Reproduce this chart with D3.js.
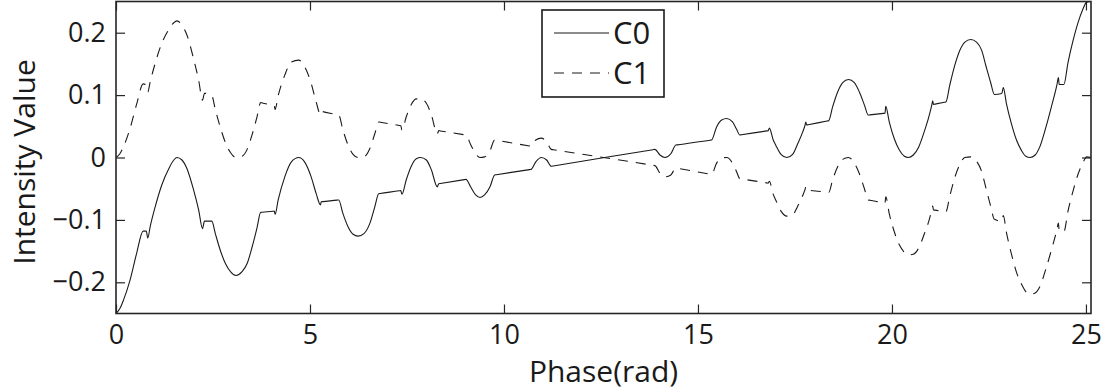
<!DOCTYPE html>
<meta charset="utf-8">
<head>
  <script type="text/javascript" src="https://cdn.jsdelivr.net/npm/d3@7/dist/d3.min.js"></script>
</head>

<style type="text/css">
  body {
    margin: 0;
    background: #fff;
    font-family: "Open Sans", "Noto Sans", sans-serif;
  }
  .axis path { display: none; }
  .axis line { stroke: #262626; stroke-width: 1.2px; }
  .axis text { font-size: 27px; fill: #1a1a1a; font-family: "Open Sans", sans-serif; }
  .frame { fill: none; stroke: #262626; stroke-width: 1.6px; }
  .curve { fill: none; stroke: #1a1a1a; stroke-width: 1.1px; }
  .label { font-size: 30px; fill: #1a1a1a; }
  .legend-text { font-size: 31px; fill: #1a1a1a; }
</style>

<body>
</body>

<script type="text/javascript">

// phase samples (rad) shared by both curves
var phase = [0.00,0.10,0.19,0.36,0.53,0.70,0.78,0.82,0.88,1.01,
  1.18,1.36,1.49,1.57,1.70,1.83,2.00,2.13,2.23,2.28,
  2.47,2.56,2.69,2.82,2.95,3.09,3.25,3.38,3.51,3.63,
  3.73,3.77,4.04,4.08,4.10,4.18,4.35,4.52,4.71,4.86,
  5.03,5.16,5.27,5.29,5.33,5.70,5.74,5.85,5.98,6.11,
  6.24,6.39,6.54,6.67,6.77,6.81,7.30,7.34,7.37,7.48,
  7.61,7.74,7.85,8.00,8.13,8.28,8.32,8.36,8.98,9.02,
  9.14,9.27,9.38,9.50,9.64,9.76,9.80,10.66,10.70,10.82,
  10.96,11.10,11.22,11.27,13.84,13.89,14.02,14.15,14.30,14.43,
  14.47,15.31,15.35,15.48,15.61,15.74,15.89,15.99,16.08,16.12,
  16.77,16.81,16.84,16.94,17.01,17.14,17.29,17.44,17.57,17.70,
  17.76,17.78,17.80,17.84,18.33,18.37,18.47,18.60,18.73,18.88,
  19.03,19.16,19.29,19.39,19.43,19.78,19.82,19.84,19.93,20.06,
  20.19,20.32,20.42,20.55,20.69,20.83,20.95,21.03,21.05,21.07,
  21.11,21.35,21.39,21.49,21.62,21.75,21.88,22.03,22.18,22.31,
  22.43,22.54,22.64,22.83,22.87,22.95,23.08,23.21,23.34,23.45,
  23.56,23.69,23.81,23.97,24.12,24.25,24.29,24.31,24.43,24.54,
  24.67,24.80,24.91,25.02,25.13];

var c0 = [-0.250,-0.242,-0.229,-0.197,-0.154,-0.118,-0.118,-0.129,-0.111,-0.079,
  -0.044,-0.018,-0.004,0.000,-0.004,-0.018,-0.052,-0.084,-0.114,-0.102,
  -0.102,-0.122,-0.149,-0.170,-0.183,-0.189,-0.183,-0.170,-0.143,-0.114,
  -0.088,-0.0878,-0.0862,-0.086,-0.091,-0.068,-0.031,-0.007,0.000,-0.007,
  -0.031,-0.058,-0.076,-0.071,-0.0707,-0.0683,-0.068,-0.090,-0.111,-0.123,
  -0.126,-0.122,-0.106,-0.079,-0.058,-0.0576,-0.0534,-0.053,-0.059,-0.036,
  -0.014,-0.002,0.000,-0.004,-0.020,-0.047,-0.042,-0.0416,-0.0354,-0.035,
  -0.047,-0.060,-0.064,-0.060,-0.047,-0.028,-0.0276,-0.0194,-0.019,-0.007,
  0.000,-0.004,-0.014,-0.0135,0.0125,0.013,0.004,0.000,0.006,0.020,
  0.0203,0.0277,0.028,0.049,0.060,0.0625,0.057,0.046,0.036,0.0364,
  0.0426,0.043,0.047,0.028,0.019,0.005,0.000,0.005,0.022,0.041,
  0.052,0.057,0.052,0.0525,0.0585,0.059,0.081,0.105,0.120,0.125,
  0.120,0.105,0.084,0.068,0.0683,0.0707,0.071,0.082,0.057,0.030,
  0.012,0.002,0.000,0.004,0.017,0.041,0.065,0.085,0.091,0.085,
  0.0855,0.0885,0.089,0.116,0.148,0.172,0.185,0.189,0.185,0.172,
  0.145,0.121,0.101,0.1025,0.112,0.0865,0.054,0.028,0.011,0.002,
  0.000,0.004,0.017,0.049,0.084,0.116,0.128,0.117,0.117,0.153,
  0.188,0.217,0.236,0.249,0.250];

var c1 = [0.000,0.006,0.017,0.046,0.085,0.118,0.116,0.105,0.121,0.151,
  0.183,0.205,0.216,0.219,0.212,0.196,0.158,0.124,0.092,0.103,
  0.099,0.077,0.048,0.024,0.008,0.000,0.002,0.013,0.037,0.064,
  0.088,0.0874,0.0836,0.083,0.077,0.099,0.132,0.153,0.156,0.146,
  0.119,0.089,0.069,0.074,0.0735,0.0685,0.068,0.044,0.020,0.005,
  0.000,0.001,0.014,0.038,0.057,0.0566,0.0514,0.051,0.044,0.065,
  0.085,0.094,0.094,0.087,0.068,0.038,0.043,0.0426,0.0364,0.036,
  0.021,0.006,0.000,0.001,0.011,0.028,0.0276,0.0184,0.018,0.028,
  0.031,0.025,0.013,0.0125,-0.0125,-0.013,-0.025,-0.031,-0.028,-0.017,
  -0.0174,-0.0266,-0.027,-0.009,-0.001,0.000,-0.009,-0.022,-0.034,-0.0344,
  -0.0406,-0.041,-0.038,-0.059,-0.069,-0.086,-0.094,-0.092,-0.078,-0.061,
  -0.051,-0.047,-0.052,-0.0523,-0.0557,-0.056,-0.036,-0.015,-0.003,0.000,
  -0.009,-0.026,-0.050,-0.068,-0.0685,-0.0725,-0.073,-0.063,-0.090,-0.119,
  -0.140,-0.152,-0.156,-0.155,-0.145,-0.123,-0.102,-0.083,-0.078,-0.084,
  -0.0844,-0.0866,-0.087,-0.062,-0.032,-0.011,0.000,0.001,-0.006,-0.022,
  -0.051,-0.077,-0.099,-0.102,-0.093,-0.120,-0.155,-0.184,-0.203,-0.215,
  -0.219,-0.217,-0.207,-0.178,-0.146,-0.116,-0.105,-0.117,-0.119,-0.085,
  -0.053,-0.026,-0.010,0.001,0.000];

var seriesNames = ["C0", "C1"];
var xTicks = [0, 5, 10, 15, 20, 25];
var yTicks = [-0.2, -0.1, 0, 0.1, 0.2];
var xMax = 25.13;

var width = 1109,
    height = 392;
var margin = {top: 1.5, right: 18, bottom: 78.5, left: 116};
var w = width - margin.left - margin.right,
    h = height - margin.top - margin.bottom;

var dash = "10,8";

var svg = d3.select("body").append("svg")
    .attr("width", width)
    .attr("height", height);

var g = svg.append("g")
    .attr("transform", "translate(" + margin.left + "," + margin.top + ")");

var x = d3.scaleLinear().domain([0, xMax]).range([0, w]);
var y = d3.scaleLinear().domain([-0.25, 0.25]).range([h, 0]);

var yFormat = function(d) { return d === 0 ? "0" : d3.format(".1f")(d); };

// inward ticks on all four sides, like a boxed matlab axes
g.append("g").attr("class", "axis")
    .attr("transform", "translate(0," + h + ")")
    .call(d3.axisBottom(x).tickValues(xTicks).tickSizeInner(-9).tickSizeOuter(0).tickPadding(11));
g.append("g").attr("class", "axis")
    .call(d3.axisTop(x).tickValues(xTicks).tickSizeInner(-9).tickSizeOuter(0).tickFormat(""));
g.append("g").attr("class", "axis")
    .call(d3.axisLeft(y).tickValues(yTicks).tickSizeInner(-9).tickSizeOuter(0).tickPadding(10).tickFormat(yFormat));
g.append("g").attr("class", "axis")
    .attr("transform", "translate(" + w + ",0)")
    .call(d3.axisRight(y).tickValues(yTicks).tickSizeInner(-9).tickSizeOuter(0).tickFormat(""));

g.append("clipPath").attr("id", "clip")
  .append("rect").attr("width", w).attr("height", h);

var line = d3.line()
    .curve(d3.curveMonotoneX)
    .x(function(d) { return x(d[0]); })
    .y(function(d) { return y(d[1]); });

var series = [c0, c1].map(function(vals) {
  return phase.map(function(p, i) { return [p, vals[i]]; });
});

g.selectAll(".curve")
    .data(series)
  .enter().append("path")
    .attr("class", "curve")
    .attr("clip-path", "url(#clip)")
    .attr("stroke-dasharray", function(d, i) { return i === 1 ? dash : null; })
    .attr("d", line);

g.append("rect")
    .attr("class", "frame")
    .attr("width", w)
    .attr("height", h);

// axis titles
svg.append("text")
    .attr("class", "label")
    .attr("text-anchor", "middle")
    .attr("x", margin.left + w / 2)
    .attr("y", 382)
    .text("Phase(rad)");

svg.append("text")
    .attr("class", "label")
    .attr("text-anchor", "middle")
    .attr("transform", "translate(35,162) rotate(-90)")
    .text("Intensity Value");

// legend
var legend = svg.append("g")
    .attr("transform", "translate(542,10)");

legend.append("rect")
    .attr("width", 122)
    .attr("height", 87)
    .style("fill", "#fff")
    .style("stroke", "#1a1a1a")
    .style("stroke-width", 1.6);

var item = legend.selectAll(".item")
    .data(seriesNames)
  .enter().append("g")
    .attr("transform", function(d, i) { return "translate(0," + (23 + 40 * i) + ")"; });

item.append("line")
    .attr("x1", 12)
    .attr("x2", 67)
    .style("stroke", "#1a1a1a")
    .style("stroke-width", 1.1)
    .attr("stroke-dasharray", function(d, i) { return i === 1 ? dash : null; });

item.append("text")
    .attr("class", "legend-text")
    .attr("x", 71)
    .attr("dy", "0.36em")
    .text(function(d) { return d; });

</script>
</html>
